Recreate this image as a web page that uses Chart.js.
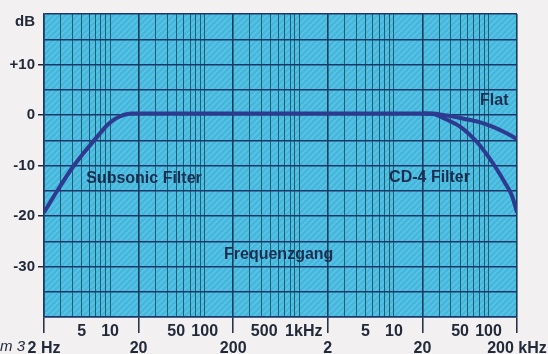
<!DOCTYPE html>
<html>
<head>
<meta charset="utf-8">
<script src="https://cdn.jsdelivr.net/npm/chart.js@4"></script>
<style>
  html, body { margin: 0; padding: 0; background: #f2f0f0; }
  #wrap { width: 548px; height: 354px; }
</style>
</head>
<body>
<div id="wrap"><canvas id="freqChart"></canvas></div>
<script>
// curve readings (Hz / dB)
var flatFreq = [2, 2.7, 4, 5, 6.6, 8, 9.2, 10.8, 12.7, 14.5, 17, 20, 100, 1000, 10000, 20000, 26000, 33000, 45000, 60000, 80000, 110000, 140000, 170000, 200000];
var flatDb   = [-19.3, -15.3, -10.4, -8.0, -5.3, -3.4, -2.1, -1.0, -0.3, 0.1, 0.3, 0.3, 0.3, 0.3, 0.3, 0.3, 0.3, 0.0, -0.4, -0.9, -1.4, -2.3, -3.2, -4.0, -4.8];
var cd4Freq  = [20000, 26000, 35000, 50000, 75000, 100000, 120000, 150000, 175000, 190000, 200000];
var cd4Db    = [0.3, 0.2, -0.8, -2.3, -5.3, -8.3, -10.5, -13.5, -15.8, -17.8, -19.3];

// axis labels
var upperTicks  = [5, 10, 50, 100, 500, 1000, 5000, 10000, 50000, 100000];
var upperLabels = ['5', '10', '50', '100', '500   ', '  1kHz', '5', '10', '50', '100'];
var lowerTicks  = [2, 20, 200, 2000, 20000, 200000];
var lowerLabels = ['2 Hz', '20', '200', '2', '20', '200 kHz'];
var dbTicks  = [10, 0, -10, -20, -30];
var dbLabels = ['+10', '0', '-10', '-20', '-30'];

// text inside the plot: [text, Hz, dB]
var notes = [
  ['Subsonic Filter', 22.8, -12.6],
  ['CD-4 Filter', 23800, -12.4],
  ['Flat', 115000, 2.9],
  ['Frequenzgang', 605, -27.7]
];

var lineColor = '#2d3a8f';
var textColor = '#1e2e50';

function pts(xs, ys) {
  return xs.map(function (x, i) { return { x: x, y: ys[i] }; });
}

// vertical grid at 2..9 of every decade
var gridFreq = [];
for (var d = 1; d <= 100000; d *= 10) {
  for (var m = 1; m <= 9; m++) {
    var f = m * d;
    if (f >= 2 && f <= 200000) gridFreq.push(f);
  }
}

function isDecade(v) {
  return lowerTicks.indexOf(v) >= 0;
}

var hatch = (function () {
  var c = document.createElement('canvas');
  c.width = 6; c.height = 6;
  var g = c.getContext('2d');
  g.fillStyle = '#45b6dc';
  g.fillRect(0, 0, 6, 6);
  g.strokeStyle = '#5cc5e6';
  g.lineWidth = 1.5;
  g.beginPath();
  g.moveTo(-1, 7); g.lineTo(7, -1);
  g.moveTo(-1, 1); g.lineTo(1, -1);
  g.moveTo(5, 7); g.lineTo(7, 5);
  g.stroke();
  return g.createPattern(c, 'repeat');
})();

var paper = {
  id: 'paper',
  beforeDraw: function (chart) {
    var a = chart.chartArea, ctx = chart.ctx;
    ctx.save();
    ctx.fillStyle = hatch;
    ctx.fillRect(a.left, a.top, a.right - a.left, a.bottom - a.top);
    ctx.restore();
  },
  afterDatasetsDraw: function (chart) {
    var ctx = chart.ctx, xs = chart.scales.x, ys = chart.scales.y;
    ctx.save();
    ctx.fillStyle = textColor;
    ctx.font = 'bold 16px "Liberation Sans", Arial, sans-serif';
    ctx.textAlign = 'center';
    ctx.textBaseline = 'middle';
    notes.forEach(function (n) {
      ctx.fillText(n[0], xs.getPixelForValue(n[1]), ys.getPixelForValue(n[2]));
    });
    // unit label at the top of the dB axis
    ctx.font = 'bold 15px "Liberation Sans", Arial, sans-serif';
    ctx.textAlign = 'right';
    ctx.fillStyle = '#222a3a';
    ctx.fillText('dB', chart.chartArea.left - 9, chart.chartArea.top + 8);
    ctx.font = 'italic 15px "Liberation Sans", Arial, sans-serif';
    ctx.textAlign = 'left';
    ctx.fillText('m 3', 0, 347);
    ctx.restore();
  }
};

var ctx = document.getElementById('freqChart').getContext('2d');
var myChart = new Chart(ctx, {
  type: 'line',
  data: {
    datasets: [{
      label: 'Flat',
      data: pts(flatFreq, flatDb),
      borderColor: lineColor,
      borderWidth: 4,
      pointRadius: 0,
      cubicInterpolationMode: 'monotone'
    }, {
      label: 'CD-4 Filter',
      data: pts(cd4Freq, cd4Db),
      borderColor: lineColor,
      borderWidth: 4,
      pointRadius: 0,
      cubicInterpolationMode: 'monotone'
    }]
  },
  options: {
    responsive: true,
    maintainAspectRatio: false,
    animation: false,
    layout: { padding: { top: 14, right: 31, left: 0, bottom: 0 } },
    plugins: {
      legend: { display: false },
      tooltip: { enabled: false }
    },
    scales: {
      x: {
        type: 'logarithmic',
        min: 2,
        max: 200000,
        afterBuildTicks: function (scale) {
          scale.ticks = gridFreq.map(function (v) { return { value: v }; });
        },
        afterFit: function (scale) { scale.height = 37; },
        border: { display: true, color: '#1b3868', width: 1.5 },
        grid: {
          color: function (c) { return isDecade(c.tick && c.tick.value) ? '#183f5c' : '#1d5f74'; },
          lineWidth: function (c) { return isDecade(c.tick && c.tick.value) ? 1.6 : 1; },
          tickColor: function (c) { return isDecade(c.tick && c.tick.value) ? '#222a3a' : 'rgba(0,0,0,0)'; },
          tickLength: 16,
          tickWidth: 1.5
        },
        ticks: {
          autoSkip: false,
          maxRotation: 0,
          padding: -9.5,
          color: '#222a3a',
          font: { family: '"Liberation Sans", Arial, sans-serif', size: 16, weight: 'bold', lineHeight: 1.06 },
          callback: function (v) {
            var i = upperTicks.indexOf(v);
            if (i >= 0) return [upperLabels[i]];
            i = lowerTicks.indexOf(v);
            if (i >= 0) return ['', lowerLabels[i]];
            return '';
          }
        }
      },
      y: {
        min: -40,
        max: 20,
        afterFit: function (scale) { scale.width = 44; },
        border: { display: true, color: '#1b3868', width: 1.5 },
        grid: {
          color: '#1b3868',
          lineWidth: 1.5,
          tickLength: 6,
          tickWidth: 1.5,
          tickColor: function (c) {
            return dbTicks.indexOf(c.tick && c.tick.value) >= 0 ? '#222a3a' : 'rgba(0,0,0,0)';
          }
        },
        ticks: {
          stepSize: 5,
          padding: 3,
          color: '#222a3a',
          font: { family: '"Liberation Sans", Arial, sans-serif', size: 15, weight: 'bold' },
          callback: function (v) {
            var i = dbTicks.indexOf(v);
            return i >= 0 ? dbLabels[i] : '';
          }
        }
      }
    }
  },
  plugins: [paper]
});
</script>
</body>
</html>
